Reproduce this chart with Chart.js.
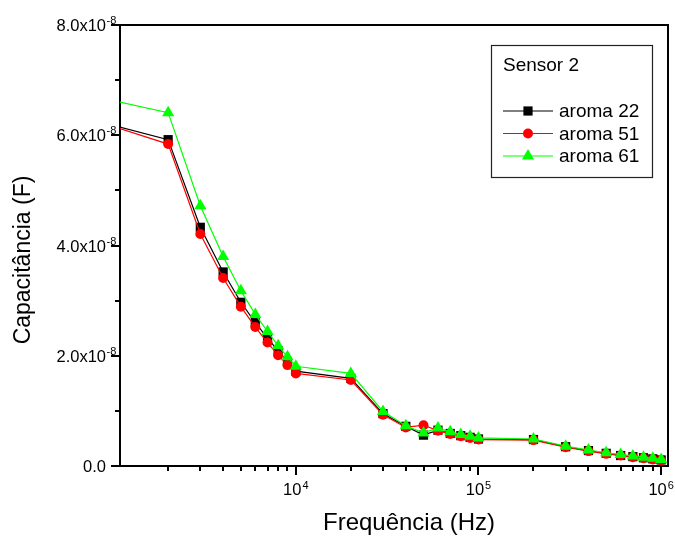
<!DOCTYPE html>
<html>
<head>
<meta charset="utf-8">
<script src="https://cdn.jsdelivr.net/npm/chart.js@4/dist/chart.umd.min.js"></script>
<style>
html,body{margin:0;padding:0;background:#ffffff;}
#wrap{width:675px;height:536px;}
</style>
</head>
<body>
<div id="wrap"><canvas id="c" width="675" height="536"></canvas></div>
<script>
// ---- data ----
const frequencies = [1000, 2000, 3000, 4000, 5000, 6000, 7000, 8000, 9000, 10000,
  20000, 30000, 40000, 50000, 60000, 70000, 80000, 90000, 100000,
  200000, 300000, 400000, 500000, 600000, 700000, 800000, 900000, 1000000];
const aroma22 = [6.18e-8, 5.92e-8, 4.33e-8, 3.52e-8, 2.97e-8, 2.60e-8, 2.32e-8, 2.09e-8, 1.89e-8, 1.72e-8,
  1.59e-8, 0.95e-8, 0.72e-8, 0.56e-8, 0.65e-8, 0.59e-8, 0.55e-8, 0.52e-8, 0.49e-8,
  0.48e-8, 0.35e-8, 0.28e-8, 0.23e-8, 0.19e-8, 0.17e-8, 0.15e-8, 0.13e-8, 0.11e-8];
const aroma51 = [6.16e-8, 5.84e-8, 4.21e-8, 3.41e-8, 2.89e-8, 2.52e-8, 2.24e-8, 2.01e-8, 1.83e-8, 1.68e-8,
  1.56e-8, 0.93e-8, 0.70e-8, 0.74e-8, 0.64e-8, 0.58e-8, 0.54e-8, 0.51e-8, 0.48e-8,
  0.47e-8, 0.34e-8, 0.27e-8, 0.22e-8, 0.19e-8, 0.16e-8, 0.14e-8, 0.12e-8, 0.10e-8];
const aroma61 = [6.63e-8, 6.41e-8, 4.72e-8, 3.80e-8, 3.18e-8, 2.75e-8, 2.44e-8, 2.18e-8, 1.98e-8, 1.81e-8,
  1.68e-8, 0.99e-8, 0.73e-8, 0.60e-8, 0.69e-8, 0.62e-8, 0.57e-8, 0.54e-8, 0.51e-8,
  0.49e-8, 0.36e-8, 0.29e-8, 0.24e-8, 0.21e-8, 0.18e-8, 0.16e-8, 0.14e-8, 0.12e-8];
const seriesNames = ['aroma 22', 'aroma 51', 'aroma 61'];
const legendTitle = 'Sensor 2';
const xTitle = 'Frequência (Hz)';
const yTitle = 'Capacitância (F)';
const xMajorTicks = [10000, 100000, 1000000];
const xMajorLabelBase = ['10', '10', '10'];
const xMajorLabelExp = ['4', '5', '6'];
const xMinorTicks = [2000, 3000, 4000, 5000, 6000, 7000, 8000, 9000,
  20000, 30000, 40000, 50000, 60000, 70000, 80000, 90000,
  200000, 300000, 400000, 500000, 600000, 700000, 800000, 900000];
const yMajorTicks = [0, 2e-8, 4e-8, 6e-8, 8e-8];
const yMajorLabels = ['0.0', '2.0x10', '4.0x10', '6.0x10', '8.0x10'];
const yMajorExp = ['', '-8', '-8', '-8', '-8'];
const yMinorTicks = [1e-8, 3e-8, 5e-8, 7e-8];
const xMin = 1090, xMax = 1090000, yMin = 0, yMax = 8e-8;

// ---- styling ----
const FONT = '"Liberation Sans", Arial, Helvetica, sans-serif';
const colors = ['#000000', '#ff0000', '#00ff00'];
const styles = ['rect', 'circle', 'triangle'];
const radii = [6.5, 5, 7];
const seriesValues = [aroma22, aroma51, aroma61];

const datasets = seriesValues.map((vals, i) => ({
  label: seriesNames[i],
  data: frequencies.map((f, k) => ({x: f, y: vals[k]})),
  borderColor: colors[i],
  backgroundColor: colors[i],
  pointBackgroundColor: colors[i],
  pointBorderColor: colors[i],
  pointBorderWidth: 0,
  borderWidth: 1.2,
  pointStyle: styles[i],
  pointRadius: radii[i],
  pointHoverRadius: radii[i],
  tension: 0,
  clip: 0,
  order: 3 - i,
  xAxisID: 'x',
  yAxisID: 'y'
}));

function tickObjs(arr) { return arr.map(v => ({value: v})); }

const axisPlugin = {
  id: 'axisText',
  afterDraw(chart) {
    const ctx = chart.ctx;
    const xs = chart.scales.x, ys = chart.scales.y;
    ctx.save();
    ctx.fillStyle = '#000';
    // y tick labels with superscript
    yMajorTicks.forEach((v, i) => {
      const py = ys.getPixelForValue(v);
      ctx.font = '16.5px ' + FONT;
      ctx.textAlign = 'right';
      ctx.textBaseline = 'alphabetic';
      ctx.fillText(yMajorLabels[i], 106, py + 6);
      if (yMajorExp[i]) {
        ctx.font = '11px ' + FONT;
        ctx.textAlign = 'left';
        ctx.fillText(yMajorExp[i], 106.5, py - 1);
      }
    });
    // x tick labels 10^n
    xMajorTicks.forEach((v, i) => {
      const px = xs.getPixelForValue(v);
      ctx.font = '16.5px ' + FONT;
      const wb = ctx.measureText(xMajorLabelBase[i]).width;
      ctx.font = '11px ' + FONT;
      const we = ctx.measureText(xMajorLabelExp[i]).width;
      const start = px - (wb + we + 1) / 2;
      ctx.textAlign = 'left';
      ctx.textBaseline = 'alphabetic';
      ctx.font = '16.5px ' + FONT;
      ctx.fillText(xMajorLabelBase[i], start, 495);
      ctx.font = '11px ' + FONT;
      ctx.fillText(xMajorLabelExp[i], start + wb + 1, 489);
    });
    // axis titles
    ctx.font = '24px ' + FONT;
    ctx.textAlign = 'center';
    ctx.textBaseline = 'alphabetic';
    ctx.fillText(xTitle, 409, 530);
    ctx.font = '23px ' + FONT;
    ctx.save();
    ctx.translate(30, 260);
    ctx.rotate(-Math.PI / 2);
    ctx.fillText(yTitle, 0, 0);
    ctx.restore();

    // legend box
    const bx = 491, by = 45, bw = 161, bh = 132;
    ctx.fillStyle = '#ffffff';
    ctx.fillRect(bx, by, bw, bh);
    ctx.strokeStyle = '#222';
    ctx.lineWidth = 1.2;
    ctx.strokeRect(bx + 0.5, by + 0.5, bw, bh);
    ctx.fillStyle = '#000';
    ctx.font = '19px ' + FONT;
    ctx.textAlign = 'left';
    ctx.textBaseline = 'middle';
    ctx.fillText(legendTitle, 503, 66);
    const rows = [111, 133.5, 156];
    seriesNames.forEach((name, i) => {
      const ry = rows[i];
      ctx.strokeStyle = colors[i];
      ctx.lineWidth = 1.2;
      ctx.beginPath();
      ctx.moveTo(503, ry);
      ctx.lineTo(553, ry);
      ctx.stroke();
      ctx.fillStyle = colors[i];
      Chart.helpers.drawPoint(ctx, {pointStyle: styles[i], radius: radii[i], rotation: 0, borderWidth: 0}, 528, ry);
      ctx.fillStyle = '#000';
      ctx.font = '19px ' + FONT;
      ctx.textBaseline = 'middle';
      ctx.fillText(name, 559, ry + 1);
    });
    ctx.restore();
  }
};

new Chart(document.getElementById('c'), {
  type: 'line',
  data: {datasets},
  options: {
    responsive: false,
    devicePixelRatio: 1,
    animation: false,
    events: [],
    layout: {padding: {left: 0, right: 6, top: 25, bottom: 0}},
    plugins: {legend: {display: false}, tooltip: {enabled: false}, title: {display: false}},
    scales: {
      x: {
        type: 'logarithmic', position: 'bottom', min: xMin, max: xMax, weight: 1,
        afterBuildTicks: s => { s.ticks = tickObjs(xMajorTicks); },
        afterFit: s => { s.height = 70; },
        ticks: {display: false},
        grid: {display: true, drawOnChartArea: false, drawTicks: true, tickLength: 9, tickWidth: 2, tickColor: '#000', lineWidth: 2, color: '#000'},
        border: {display: true, color: '#000', width: 2}
      },
      y: {
        type: 'linear', position: 'left', min: yMin, max: yMax, weight: 1,
        afterBuildTicks: s => { s.ticks = tickObjs(yMajorTicks); },
        afterFit: s => { s.width = 120; },
        ticks: {display: false},
        grid: {display: true, drawOnChartArea: false, drawTicks: true, tickLength: 9, tickWidth: 2, tickColor: '#000', lineWidth: 2, color: '#000'},
        border: {display: true, color: '#000', width: 2}
      },
      xMinor: {
        type: 'logarithmic', position: 'bottom', min: xMin, max: xMax, weight: 0,
        afterBuildTicks: s => { s.ticks = tickObjs(xMinorTicks); },
        afterFit: s => { s.height = 0; },
        ticks: {display: false},
        grid: {display: true, drawOnChartArea: false, drawTicks: true, tickLength: 5, tickWidth: 2, tickColor: '#000', lineWidth: 2, color: '#000'},
        border: {display: false}
      },
      yMinor: {
        type: 'linear', position: 'left', min: yMin, max: yMax, weight: 0,
        afterBuildTicks: s => { s.ticks = tickObjs(yMinorTicks); },
        afterFit: s => { s.width = 0; },
        ticks: {display: false},
        grid: {display: true, drawOnChartArea: false, drawTicks: true, tickLength: 5, tickWidth: 2, tickColor: '#000', lineWidth: 2, color: '#000'},
        border: {display: false}
      },
      xTop: {
        type: 'linear', position: 'top', min: 0, max: 1,
        afterFit: s => { s.height = 0; },
        ticks: {display: false},
        grid: {display: true, drawOnChartArea: false, drawTicks: false},
        border: {display: true, color: '#000', width: 2}
      },
      yRight: {
        type: 'linear', position: 'right', min: 0, max: 1,
        afterFit: s => { s.width = 0; },
        ticks: {display: false},
        grid: {display: true, drawOnChartArea: false, drawTicks: false},
        border: {display: true, color: '#000', width: 2}
      }
    }
  },
  plugins: [axisPlugin]
});
</script>
</body>
</html>
